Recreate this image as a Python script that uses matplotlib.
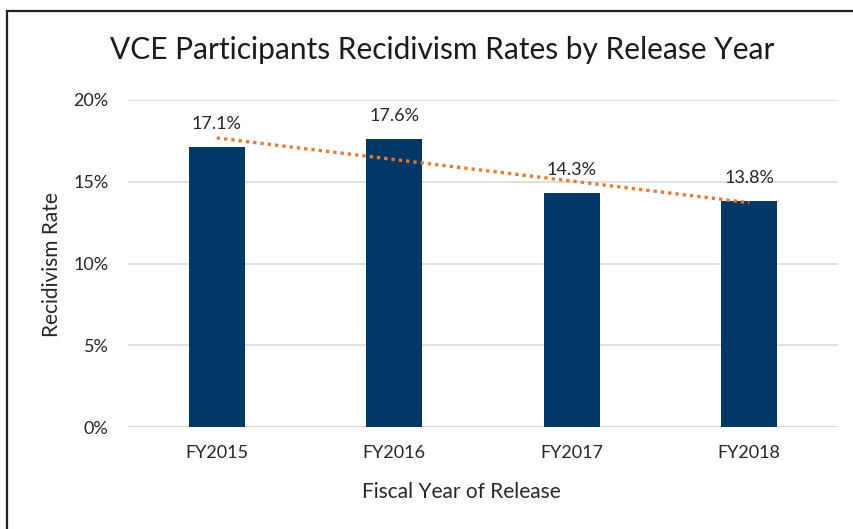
import matplotlib
matplotlib.use("Agg")
import matplotlib.pyplot as plt
import numpy as np
from matplotlib.patches import Rectangle

categories = ["FY2015", "FY2016", "FY2017", "FY2018"]
rates = [17.1, 17.6, 14.3, 13.8]
yticks = [0, 5, 10, 15, 20]

plt.rcParams['font.family'] = ['Lato', 'DejaVu Sans']

W, H = 854, 529
fig = plt.figure(figsize=(W/100, H/100), dpi=100)
ax = fig.add_axes([128/W, 1-427/H, (838-128)/W, (427-100)/H])

x = np.arange(len(categories))
ax.bar(x, rates, width=0.315, color='#003764', zorder=3)
coef = np.polyfit(x, rates, 1)
ax.plot(x, np.polyval(coef, x), linestyle=(0, (1, 1.2)), color='#E07B39', lw=2.4, zorder=4)

for xi, v in zip(x, rates):
    ax.annotate(f"{v}%", (xi, v), xytext=(0, 16.5), textcoords='offset points',
                ha='center', va='center', fontsize=13, color='#262626', zorder=5)

ax.set_xlim(-0.5, 3.5)
ax.set_ylim(0, 20)
ax.set_yticks(yticks)
ax.set_yticklabels([f"{t}%" for t in yticks], fontsize=13, color='#262626')
ax.set_xticks(x)
ax.set_xticklabels(categories, fontsize=13, color='#262626')
ax.tick_params(length=0)
ax.tick_params(axis='x', pad=13)
ax.tick_params(axis='y', pad=14)
ax.grid(axis='y', color='#d9d9d9', lw=1.2, zorder=0)
for s in ax.spines.values():
    s.set_visible(False)
ax.axhline(0, color='#d9d9d9', lw=1.2, zorder=1)

fig.text(442/W, 1-50/H, "VCE Participants Recidivism Rates by Release Year",
         ha='center', va='center', fontsize=21.5, color='#1a1a1a')
fig.text(52/W, 1-265/H, "Recidivism Rate", rotation=90, ha='center', va='center',
         fontsize=15, color='#262626')
fig.text(461/W, 1-492/H, "Fiscal Year of Release", ha='center', va='center',
         fontsize=15, color='#262626')

fig.patches.append(Rectangle((7/W, -0.1), 1.2, 1 - 11/H + 0.1, transform=fig.transFigure,
                             fill=False, edgecolor='#222222', lw=1.6))

fig.savefig("out.png", dpi=100)
